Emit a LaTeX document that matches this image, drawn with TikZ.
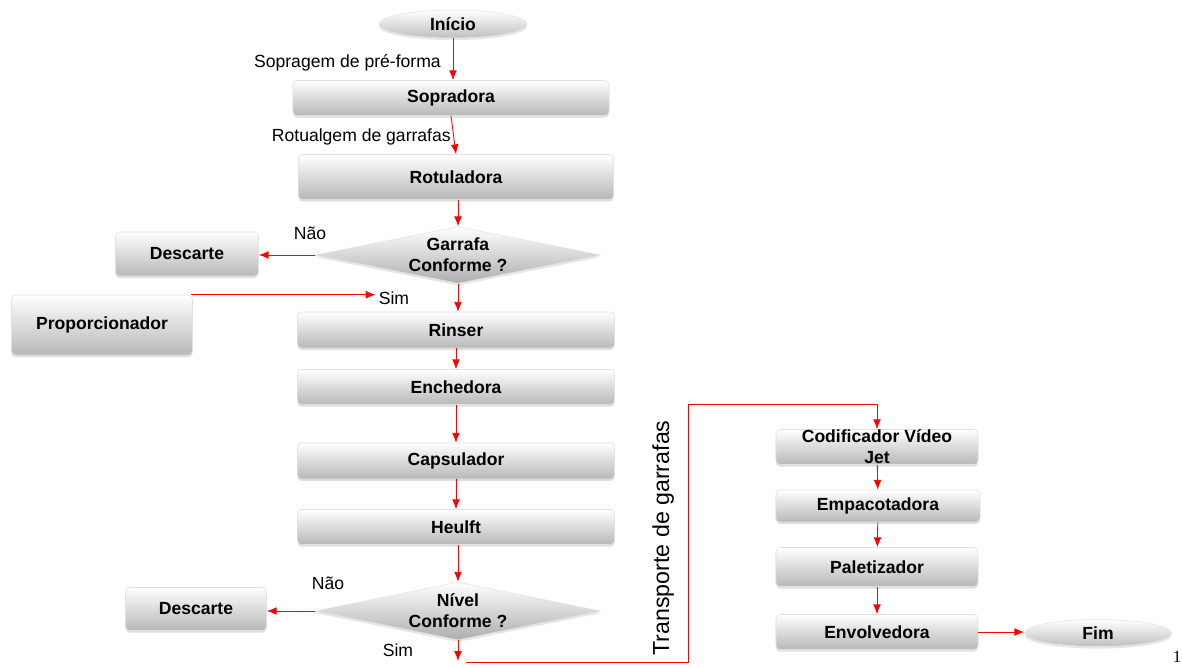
\documentclass[tikz,border=0pt]{standalone}
\usepackage{fontspec}
\setmainfont{Liberation Sans}
\newfontfamily\numfont{Liberation Serif}
\usepackage{tikz}
\usetikzlibrary{arrows.meta,positioning,calc,shapes.geometric,shadows}
\tikzstyle{texto}=[font=\fontsize{12.5}{15}\selectfont\bfseries,align=center]
\tikzstyle{etapa}=[texto,draw=black!12,rounded corners=3pt,top color=white,bottom color=black!28,inner sep=0pt,drop shadow={opacity=0.25,shadow xshift=0pt,shadow yshift=-1.5pt}]
\tikzstyle{terminal}=[texto,ellipse,draw=black!10,top color=white,bottom color=black!25,inner sep=0pt,drop shadow={opacity=0.2,shadow xshift=0pt,shadow yshift=-1.5pt}]
\tikzstyle{decisao}=[diamond,draw=black!10,top color=white,bottom color=black!32,inner sep=0pt,minimum width=7.125cm,minimum height=1.42cm,drop shadow={opacity=0.2,shadow xshift=0pt,shadow yshift=-1.5pt}]
\tikzstyle{rotulo}=[font=\fontsize{12.5}{15}\selectfont,inner sep=0pt]
\tikzstyle{seta}=[draw=red,line width=0.6pt,-{Latex[length=7pt,width=5.5pt]}]

\begin{document}
\begin{tikzpicture}[x=0.025cm,y=-0.025cm]
\useasboundingbox (0,0) rectangle (1182,667);

% coluna principal
\node [terminal,minimum width=3.7cm,minimum height=0.7cm] (inicio) at (453,24) {Início};
\node [etapa,minimum width=7.9cm,minimum height=0.875cm] (sopradora) at (451,98) {Sopradora};
\node [etapa,minimum width=7.875cm,minimum height=1.125cm] (rotuladora) at (456,177) {Rotuladora};
\node [decisao] (garrafa) at (458,255) {};
\node [texto] (garrafaTxt) at (garrafa) {Garrafa\\Conforme ?};
\node [etapa,minimum width=3.575cm,minimum height=1.1cm] (descarteA) at (187,254) {Descarte};
\node [etapa,minimum width=4.525cm,minimum height=1.5cm] (prop) at (102,325) {Proporcionador};
\node [etapa,minimum width=7.925cm,minimum height=0.9cm] (rinser) at (456,330) {Rinser};
\node [etapa,minimum width=7.925cm,minimum height=0.875cm] (enchedora) at (456,387) {Enchedora};
\node [etapa,minimum width=7.925cm,minimum height=0.9cm] (capsulador) at (456,461) {Capsulador};
\node [etapa,minimum width=7.925cm,minimum height=0.875cm] (heulft) at (456,527) {Heulft};
\node [decisao,minimum height=1.45cm] (nivel) at (458,611) {};
\node [texto] (nivelTxt) at (nivel) {Nível\\Conforme ?};
\node [etapa,minimum width=3.525cm,minimum height=1.075cm] (descarteB) at (196,609) {Descarte};

% coluna da direita
\node [etapa,minimum width=5.05cm,minimum height=0.875cm] (codificador) at (877,447) {};
\node [texto] (codificadorTxt) at (codificador) {Codificador Vídeo\\Jet};
\node [etapa,minimum width=5.1cm,minimum height=0.8cm] (empacotadora) at (878,506) {Empacotadora};
\node [etapa,minimum width=5.05cm,minimum height=0.975cm] (paletizador) at (877,567) {Paletizador};
\node [etapa,minimum width=5.05cm,minimum height=0.875cm] (envolvedora) at (877,632) {Envolvedora};
\node [terminal,minimum width=3.675cm,minimum height=0.675cm] (fim) at (1098,633) {Fim};

% rotulos
\node [rotulo,anchor=east] (sopragem) at (441,63) {Sopragem de pré-forma};
\node [rotulo,anchor=east] (rotulagem) at (451,137) {Rotualgem de garrafas};
\node [rotulo] (naoA) at (310,233) {Não};
\node [rotulo] (simA) at (394,298) {Sim};
\node [rotulo] (naoB) at (328,583) {Não};
\node [rotulo] (simB) at (398,650) {Sim};
\node [rotulo,rotate=90,font=\fontsize{16.5}{18}\selectfont] (transporte) at (663,538) {Transporte de garrafas};
\node [font=\numfont\fontsize{12}{14}\selectfont,inner sep=0pt] (pagina) at (1177,657) {1};

\coordinate (saida) at (458,661);
\coordinate (t1) at (466,662);
\coordinate (t2) at (688,404);

% ligacoes
\draw [seta] (inicio.south) -- (sopradora.north -| inicio.south);
\draw [seta] (sopradora.south) -- (rotuladora.north);
\draw [seta] (rotuladora.south -| garrafa.north) -- (garrafa.north);
\draw [seta] (garrafa.west) -- (garrafa.west -| descarteA.east);
\draw [seta] (garrafa.south) -- (rinser.north -| garrafa.south);
\draw [seta] ($(prop.north east)+(-2,0)$) -- ($(prop.north east -| simA.west)+(-3,0)$);
\draw [seta] (rinser) -- (enchedora);
\draw [seta] (enchedora) -- (capsulador);
\draw [seta] (capsulador) -- (heulft);
\draw [seta] (heulft.south -| nivel.north) -- (nivel.north);
\draw [seta] (nivel.west) -- (nivel.west -| descarteB.east);
\draw [seta] (nivel.south) -- (saida);
\draw [seta] (t1) -| (t2) -| (codificador.north);
\draw [seta] (codificador) -- (empacotadora);
\draw [seta] (empacotadora) -- (paletizador);
\draw [seta] (paletizador) -- (envolvedora);
\draw [seta] (envolvedora.east) -- (envolvedora.east -| fim.west);
\end{tikzpicture}
\end{document}
